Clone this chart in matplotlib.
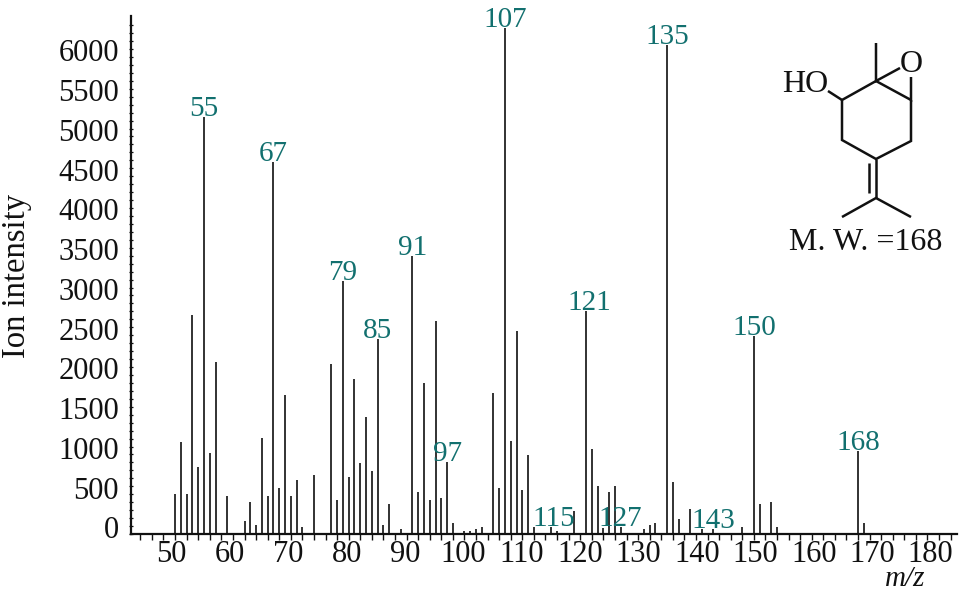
#!/usr/bin/env python3
"""Mass spectrum of a monoterpene epoxide alcohol (M. W. 168)."""

import matplotlib
matplotlib.use("Agg")
import matplotlib.pyplot as plt
from matplotlib.transforms import ScaledTranslation

plt.rcParams["font.family"] = ["Liberation Serif", "DejaVu Serif"]

MZ = [50, 51, 52, 53, 54, 55, 56, 57, 59, 62, 63, 64, 65, 66, 67, 68, 69, 70, 71, 72,
      74, 77, 78, 79, 80, 81, 82, 83, 84, 85, 86, 87, 89, 91, 92, 93, 94, 95, 96, 97,
      98, 100, 101, 102, 103, 105, 106, 107, 108, 109, 110, 111, 112, 115, 116, 119,
      121, 122, 123, 124, 125, 126, 127, 131, 132, 133, 135, 136, 137, 139, 141, 143,
      148, 150, 151, 153, 154, 168, 169]
INTENSITY = [503, 1152, 503, 2757, 842, 5245, 1022, 2162, 478, 168, 402, 117, 1203, 478,
             4680, 582, 1743, 478, 683, 88, 737, 2137, 427, 3182, 712, 1953, 892, 1466,
             792, 2447, 113, 373, 63, 3497, 528, 1902, 427, 2682, 452, 909, 142, 38, 38,
             63, 88, 1768, 578, 6365, 1173, 2548, 553, 993, 88, 88, 38, 293, 2799, 1073,
             608, 75, 528, 608, 88, 63, 113, 142, 6151, 658, 193, 318, 59, 59, 88, 2490,
             373, 398, 88, 1047, 138]
LABELLED = [55, 67, 79, 85, 91, 97, 107, 115, 121, 127, 135, 143, 150, 168]
X_TICKS = list(range(50, 190, 10))
Y_TICKS = list(range(0, 6500, 500))

# molecule sketch, in figure pixels
BONDS = [
    [(876, 43), (876, 81), (900, 68)],
    [(911, 77), (911, 100), (876, 81)],
    [(911, 100), (911, 141), (876, 159), (842, 140), (842, 100), (876, 81)],
    [(842, 100), (828, 91)],
    [(876, 159), (876, 198)],
    [(869, 163), (869, 193)],
    [(842, 217), (876, 198), (911, 217)],
]

W, H = 959, 592
TEAL = "#12706f"
INK = "#111111"


def main():
    fig = plt.figure(figsize=(W / 100, H / 100), dpi=100, facecolor="white")
    ax = fig.add_axes([130.5 / W, (H - 534) / H, (957 - 130.5) / W, (534 - 16) / H])
    ax.set_xlim(42.3, 185.1)
    ax.set_ylim(0, 6515)

    ax.vlines(MZ, 0, INTENSITY, color="#2a2a2a", linewidth=1.35, zorder=2)

    for side in ("top", "right"):
        ax.spines[side].set_visible(False)
    for side in ("left", "bottom"):
        ax.spines[side].set_linewidth(1.6)
        ax.spines[side].set_color(INK)

    ax.set_xticks(X_TICKS)
    ax.set_xticks(range(44, 186, 2), minor=True)
    ax.set_yticks(Y_TICKS)
    ax.set_yticks(range(0, 6500, 100), minor=True)
    ax.tick_params(axis="x", which="both", direction="out", length=4, width=1.0, color=INK)
    ax.tick_params(axis="x", which="major", pad=0, labelsize=22, labelcolor=INK)
    ax.tick_params(axis="y", which="both", direction="inout", length=2.5, width=0.9, color=INK)
    ax.tick_params(axis="y", which="major", pad=7, labelsize=22, labelcolor=INK)

    # printed tick labels sit a little off their ticks in the source figure
    for tick in ax.yaxis.get_major_ticks():
        lab = tick.label1
        lab.set_transform(lab.get_transform() + ScaledTranslation(0, 6.5 / 100, fig.dpi_scale_trans))
    for tick, m in zip(ax.xaxis.get_major_ticks(), X_TICKS):
        lab = tick.label1
        dx = -3.5 + (m - 50) * 0.05
        lab.set_transform(lab.get_transform() + ScaledTranslation(dx / 100, 0, fig.dpi_scale_trans))

    heights = dict(zip(MZ, INTENSITY))
    for m in LABELLED:
        dx = 3 if m in (115, 121) else 0
        ax.annotate(str(m), xy=(m, heights[m]), xytext=(dx, 1), textcoords="offset pixels",
                    ha="center", va="baseline", fontsize=21, color=TEAL,
                    annotation_clip=False, zorder=3)

    fig.text(17 / W, 1 - 276 / H, "Ion intensity", rotation=90, ha="center", va="center",
             fontsize=23.5, color=INK)
    fig.text(905 / W, 1 - 579 / H, "m/z", style="italic", ha="center", va="center",
             fontsize=21, color=INK)

    # overlay in pixels for the structure drawing
    over = fig.add_axes([0, 0, 1, 1], facecolor="none")
    over.set_xlim(0, W)
    over.set_ylim(H, 0)
    over.axis("off")
    for bond in BONDS:
        over.plot([p[0] for p in bond], [p[1] for p in bond], color=INK, linewidth=1.8,
                  solid_joinstyle="miter", solid_capstyle="butt")
    over.text(805, 84, "HO", ha="center", va="center", fontsize=23, color=INK)
    over.text(911, 64, "O", ha="center", va="center", fontsize=23, color=INK)
    over.text(866, 243, "M. W. =168", ha="center", va="center", fontsize=23, color=INK)

    fig.savefig("out.png", dpi=100, facecolor="white")
    plt.close(fig)


if __name__ == "__main__":
    main()
